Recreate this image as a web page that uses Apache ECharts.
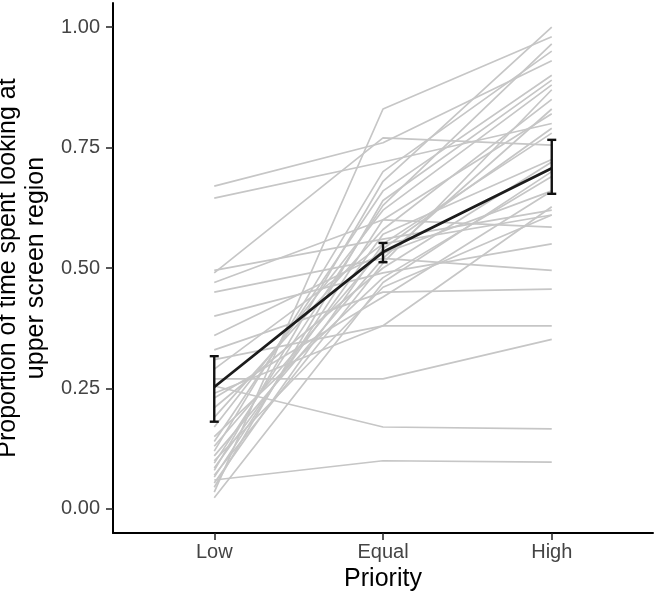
<!DOCTYPE html>
<html>
<head>
<meta charset="utf-8">
<script src="https://cdn.jsdelivr.net/npm/echarts@6/dist/echarts.min.js"></script>
<style>
html,body{margin:0;padding:0;background:#fff;}
#chart{width:657px;height:598px;}
</style>
</head>
<body>
<div id="chart"></div>
<script>
// ---- data ----
const categories = ['Low', 'Equal', 'High'];
const categoryPositions = [1, 2, 3];
// individual participants (proportion at Low, Equal, High)
const lowValues   = [0.67, 0.645, 0.495, 0.49, 0.47, 0.45, 0.40, 0.36, 0.33, 0.31, 0.29, 0.27, 0.255, 0.24, 0.035, 0.21, 0.19, 0.17, 0.15, 0.14, 0.13, 0.12, 0.11, 0.10, 0.095, 0.085, 0.08, 0.07, 0.066, 0.06, 0.054, 0.045, 0.23, 0.023];
const equalValues = [0.76, 0.72, 0.56, 0.77, 0.60, 0.52, 0.49, 0.53, 0.45, 0.38, 0.55, 0.27, 0.17, 0.38, 0.83, 0.50, 0.58, 0.62, 0.48, 0.66, 0.54, 0.70, 0.52, 0.46, 0.63, 0.57, 0.68, 0.51, 0.60, 0.10, 0.55, 0.64, 0.44, 0.47];
const highValues  = [0.93, 0.80, 0.62, 0.755, 0.585, 0.495, 0.55, 0.66, 0.456, 0.38, 0.61, 0.352, 0.166, 0.627, 0.98, 0.72, 0.85, 0.88, 0.69, 0.90, 0.79, 0.95, 0.83, 0.61, 0.965, 0.725, 1.00, 0.87, 0.82, 0.097, 0.78, 0.89, 0.66, 0.70];
// group means and error bar limits
const meanValues = [0.253, 0.533, 0.707];
const lowerValues = [0.181, 0.512, 0.654];
const upperValues = [0.317, 0.552, 0.766];
const yTicks = [0, 0.25, 0.5, 0.75, 1];

// ---- chart ----
const FONT = "'Liberation Sans', Arial, Helvetica, sans-serif";
const chart = echarts.init(document.getElementById('chart'), null, {renderer: 'canvas'});

const series = [];
for (let i = 0; i < lowValues.length; i++) {
  const vals = [lowValues[i], equalValues[i], highValues[i]];
  series.push({
    type: 'line',
    data: vals.map((v, k) => [categoryPositions[k], v]),
    showSymbol: false,
    silent: true,
    z: 1,
    lineStyle: {color: '#c6c6c6', width: 1.7},
    animation: false
  });
}
series.push({
  type: 'line',
  data: meanValues.map((v, k) => [categoryPositions[k], v]),
  showSymbol: false,
  silent: true,
  z: 3,
  lineStyle: {color: '#1c1c1c', width: 2.8},
  animation: false
});
series.push({
  type: 'custom',
  z: 4,
  silent: true,
  animation: false,
  data: categoryPositions.map((x, k) => [x, lowerValues[k], upperValues[k]]),
  renderItem: function (params, api) {
    const x = api.value(0);
    const lo = api.coord([x, api.value(1)]);
    const hi = api.coord([x, api.value(2)]);
    const hw = 4.5;
    const style = {stroke: '#111', lineWidth: 2.4, fill: null};
    return {
      type: 'group',
      children: [
        {type: 'line', shape: {x1: lo[0], y1: lo[1], x2: hi[0], y2: hi[1]}, style: style},
        {type: 'line', shape: {x1: lo[0] - hw, y1: lo[1], x2: lo[0] + hw, y2: lo[1]}, style: style},
        {type: 'line', shape: {x1: hi[0] - hw, y1: hi[1], x2: hi[0] + hw, y2: hi[1]}, style: style}
      ]
    };
  }
});

chart.setOption({
  animation: false,
  backgroundColor: '#fff',
  grid: {left: 113, right: 4, top: 3, bottom: 65, containLabel: false, outerBoundsMode: 'none'},
  xAxis: {
    type: 'value',
    min: 0.4,
    max: 3.6,
    name: 'Priority',
    nameLocation: 'middle',
    nameGap: 33,
    nameTextStyle: {fontSize: 25, color: '#000', fontFamily: FONT},
    axisLine: {show: true, onZero: false, lineStyle: {color: '#000', width: 2}},
    axisTick: {show: true, customValues: categoryPositions, length: 7, lineStyle: {color: '#222', width: 1.5}},
    axisLabel: {
      customValues: categoryPositions,
      formatter: v => categories[Math.round(v) - 1] || '',
      fontSize: 20, color: '#444', fontFamily: FONT, margin: 9
    },
    splitLine: {show: false}
  },
  yAxis: {
    type: 'value',
    min: -0.05,
    max: 1.05,
    name: 'Proportion of time spent looking at\nupper screen region',
    nameLocation: 'middle',
    nameRotate: 90,
    nameGap: 56,
    nameTextStyle: {fontSize: 25, lineHeight: 28, color: '#000', fontFamily: FONT, align: 'center'},
    axisLine: {show: true, onZero: false, lineStyle: {color: '#000', width: 2}},
    axisTick: {show: true, customValues: yTicks, length: 7, lineStyle: {color: '#222', width: 1.5}},
    axisLabel: {
      customValues: yTicks,
      formatter: v => v.toFixed(2),
      fontSize: 20, color: '#444', fontFamily: FONT, margin: 13
    },
    splitLine: {show: false}
  },
  series: series
});
</script>
</body>
</html>
